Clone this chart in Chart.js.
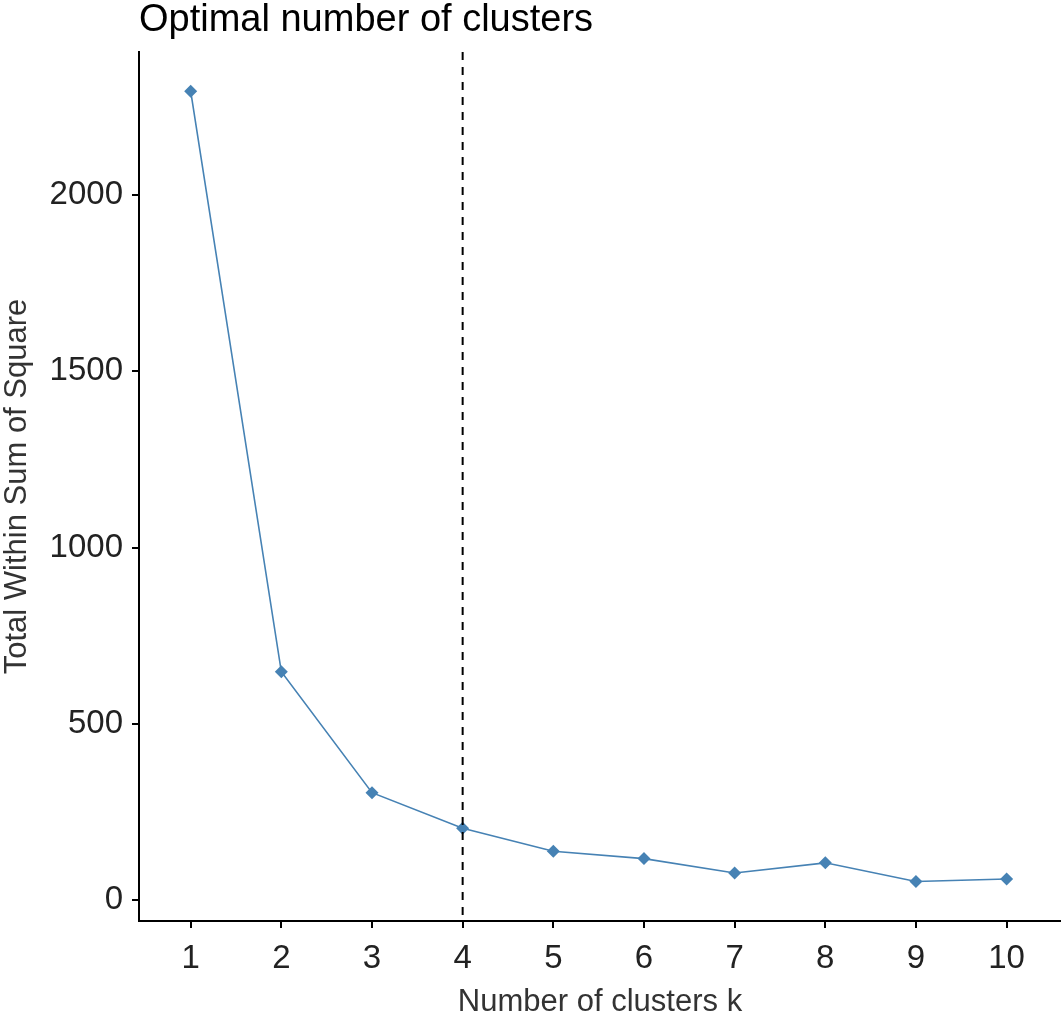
<!DOCTYPE html>
<html>
<head>
<meta charset="utf-8">
<script src="https://cdn.jsdelivr.net/npm/chart.js@4"></script>
<style>
  html, body { margin: 0; padding: 0; background: #fff; overflow: hidden; }
  canvas { display: block; }
</style>
</head>
<body>
<canvas id="elbow" width="1061" height="1016"></canvas>
<script>
// values
const clusterK = [1, 2, 3, 4, 5, 6, 7, 8, 9, 10];
const withinSS = [2295, 648, 305, 204, 139, 118, 77, 106, 53, 60];
const yTickValues = [0, 500, 1000, 1500, 2000];
const optimalK = 4;

const titleText = 'Optimal number of clusters';
const xTitle = 'Number of clusters k';
const yTitle = 'Total Within Sum of Square';

const FONT = '"Liberation Sans", Arial, sans-serif';

// title + dashed line at the chosen k
const extras = {
    id: 'extras',
    afterDatasetsDraw(chart) {
        const ctx = chart.ctx;
        const area = chart.chartArea;
        const x = chart.scales.x.getPixelForValue(optimalK);
        ctx.save();
        ctx.strokeStyle = '#000';
        ctx.lineWidth = 2;
        ctx.setLineDash([8, 7]);
        ctx.beginPath();
        ctx.moveTo(x, area.top);
        ctx.lineTo(x, area.bottom);
        ctx.stroke();
        ctx.restore();
    },
    afterDraw(chart) {
        const ctx = chart.ctx;
        ctx.save();
        ctx.fillStyle = '#000';
        ctx.font = '38px ' + FONT;
        ctx.textBaseline = 'alphabetic';
        ctx.textAlign = 'left';
        ctx.fillText(titleText, chart.chartArea.left, 31);
        ctx.restore();
    }
};

new Chart(document.getElementById('elbow'), {
    type: 'line',
    data: {
        datasets: [{
            data: clusterK.map((k, i) => ({ x: k, y: withinSS[i] })),
            borderColor: '#4682B4',
            backgroundColor: '#4682B4',
            borderWidth: 1.6,
            pointStyle: 'rectRot',
            pointRadius: 6.5,
            pointBorderWidth: 0,
            tension: 0,
            clip: false
        }]
    },
    options: {
        responsive: false,
        animation: false,
        layout: { autoPadding: false, padding: { top: 52, right: 0, bottom: 0, left: 0 } },
        plugins: {
            legend: { display: false },
            tooltip: { enabled: false }
        },
        scales: {
            x: {
                type: 'linear',
                min: 0.43,
                max: 10.6,
                afterBuildTicks: s => { s.ticks = clusterK.map(v => ({ value: v })); },
                afterFit: s => { s.height = 95; s.paddingLeft = 0; s.paddingRight = 0; },
                grid: { display: true, drawOnChartArea: false, drawTicks: true, tickLength: 7, color: '#000', lineWidth: 2 },
                border: { display: true, color: '#000', width: 2 },
                ticks: { color: '#222', font: { family: FONT, size: 33 }, padding: 11, maxRotation: 0 },
                title: {
                    display: true, text: xTitle, color: '#333',
                    font: { family: FONT, size: 31, lineHeight: 0.85 },
                    padding: { top: 0, bottom: 0 }
                }
            },
            y: {
                type: 'linear',
                min: -59,
                max: 2406,
                afterBuildTicks: s => { s.ticks = yTickValues.map(v => ({ value: v })); },
                afterFit: s => { s.width = 139; },
                grid: { display: true, drawOnChartArea: false, drawTicks: true, tickLength: 7, color: '#000', lineWidth: 2 },
                border: { display: true, color: '#000', width: 2 },
                ticks: { color: '#222', font: { family: FONT, size: 33 }, padding: 9, callback: v => String(v) },
                title: {
                    display: true, text: yTitle, color: '#333',
                    font: { family: FONT, size: 31, lineHeight: 1.1 },
                    padding: { top: 0, bottom: 0 }
                }
            }
        }
    },
    plugins: [extras]
});
</script>
</body>
</html>
